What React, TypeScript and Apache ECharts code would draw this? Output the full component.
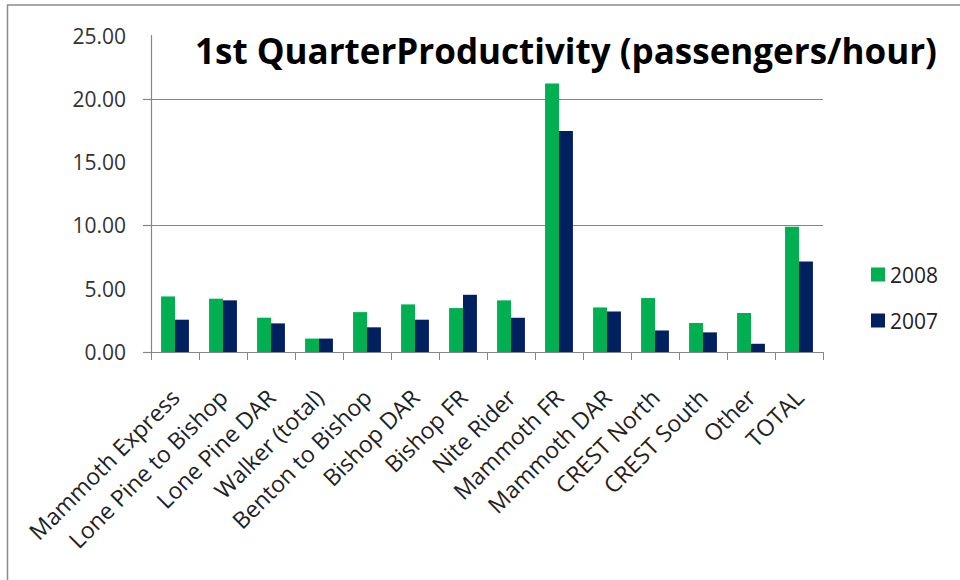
import React, { useEffect, useRef } from "react";
import * as echarts from "echarts";

const categories = [
  "Mammoth Express",
  "Lone Pine to Bishop",
  "Lone Pine DAR",
  "Walker (total)",
  "Benton to Bishop",
  "Bishop DAR",
  "Bishop FR",
  "Nite Rider",
  "Mammoth FR",
  "Mammoth DAR",
  "CREST North",
  "CREST South",
  "Other",
  "TOTAL",
];
const values2008 = [4.39, 4.21, 2.71, 1.06, 3.15, 3.76, 3.47, 4.08, 21.2, 3.52, 4.26, 2.29, 3.08, 9.9];
const values2007 = [2.55, 4.08, 2.26, 1.06, 1.95, 2.55, 4.52, 2.71, 17.45, 3.2, 1.7, 1.55, 0.65, 7.15];
const seriesNames = ["2008", "2007"];
const titleText = "1st QuarterProductivity (passengers/hour)";
const majorTicks = [0, 10, 20];

const FONT = "Open Sans";

export default function App() {
  const ref = useRef<HTMLDivElement>(null);
  useEffect(() => {
    if (!ref.current) return;
    const chart = echarts.init(ref.current, undefined, { renderer: "svg" });
    chart.setOption({
      animation: false,
      backgroundColor: "#ffffff",
      title: {
        text: titleText,
        left: 190,
        top: 28,
        textStyle: { fontFamily: FONT, fontWeight: "bold", fontSize: 35, color: "#000000" },
      },
      graphic: [
        {
          type: "rect",
          shape: { x: 7.5, y: 5, width: 1200, height: 1200 },
          style: { fill: "none", stroke: "#8c8c8c", lineWidth: 1.5 },
          silent: true,
        },
      ],
      legend: {
        orient: "vertical",
        left: 866,
        top: 259,
        itemWidth: 14,
        itemHeight: 14,
        itemGap: 25,
        icon: "rect",
        data: seriesNames,
        textStyle: { fontFamily: FONT, fontSize: 21, color: "#222", padding: [0, 0, 0, 0] },
      },
      grid: { left: 151, right: 137, top: 35.5, bottom: 228, containLabel: false },
      xAxis: {
        type: "category",
        data: categories,
        axisLine: { lineStyle: { color: "#868686", width: 1.2 } },
        axisTick: { show: true, length: 8, alignWithLabel: false, lineStyle: { color: "#868686" } },
        axisLabel: {
          interval: 0,
          rotate: 45,
          margin: 41,
          fontFamily: FONT,
          fontSize: 23,
          color: "#222",
        },
      },
      yAxis: {
        type: "value",
        min: 0,
        max: 25,
        interval: 5,
        axisLine: { show: true, lineStyle: { color: "#868686", width: 1.2 } },
        axisTick: { show: true, length: 8, customValues: majorTicks, lineStyle: { color: "#868686", width: 1.2 } },
        axisLabel: {
          margin: 25,
          fontFamily: FONT,
          fontSize: 21,
          color: "#333",
          formatter: (v: number) => v.toFixed(2),
        },
        splitLine: { show: true, showMinLine: false, lineStyle: { color: "#868686", width: 1.2 } },
      },
      series: [
        {
          name: seriesNames[0],
          type: "bar",
          data: values2008,
          barGap: "0%",
          barCategoryGap: "42%",
          itemStyle: { color: "#00B050" },
        },
        {
          name: seriesNames[1],
          type: "bar",
          data: values2007,
          barGap: "0%",
          barCategoryGap: "42%",
          itemStyle: { color: "#002060" },
        },
      ],
    });
    return () => chart.dispose();
  }, []);
  return (
    <div
      ref={ref}
      style={{ position: "fixed", left: 0, top: 0, width: 960, height: 580, background: "#fff" }}
    />
  );
}
